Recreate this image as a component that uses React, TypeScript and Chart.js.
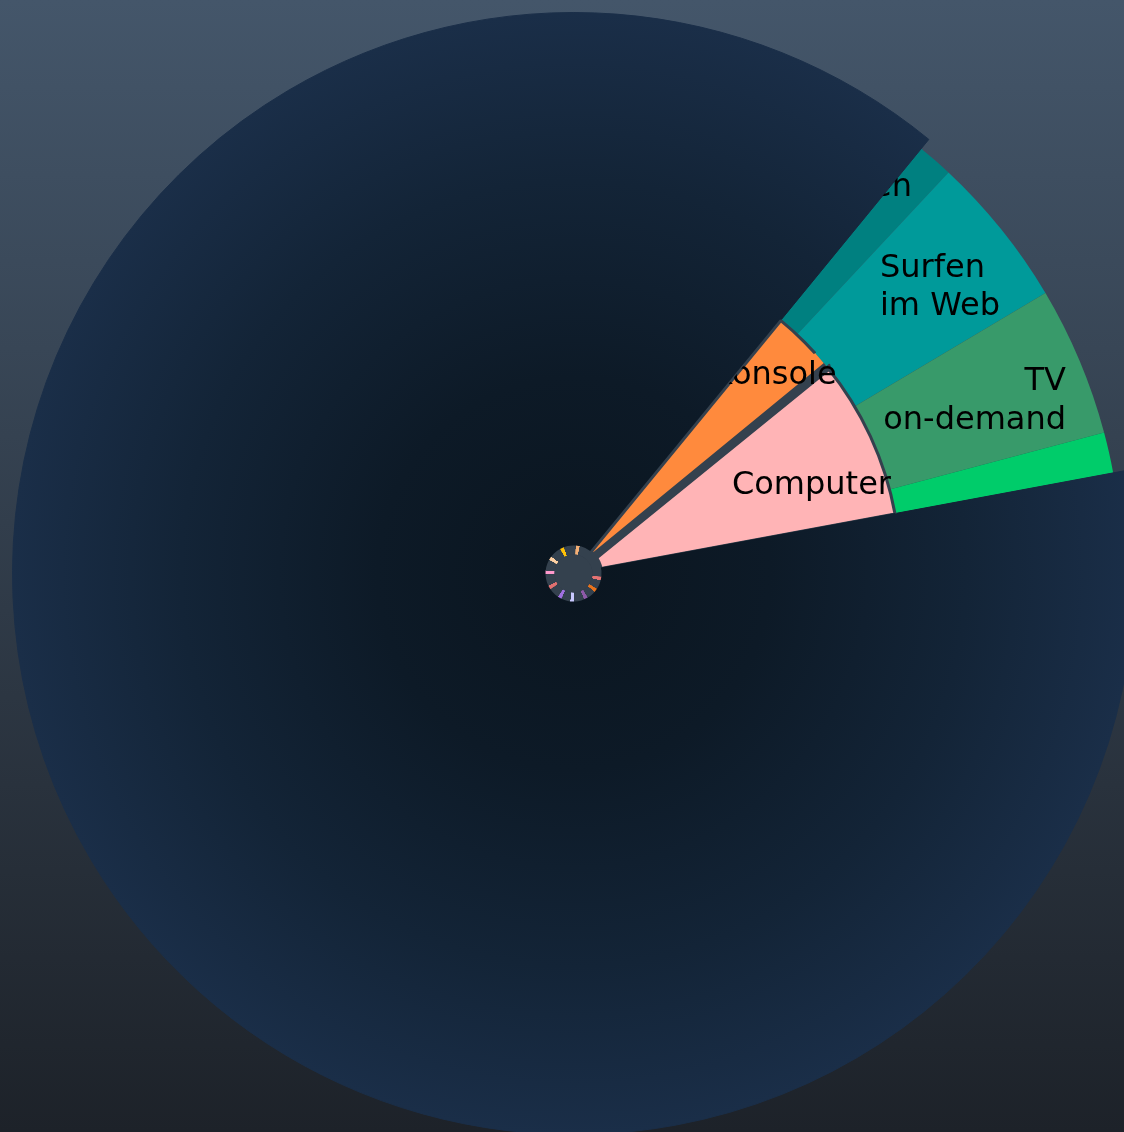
import React, { useEffect, useRef } from 'react';
import { Chart, registerables } from 'chart.js';

Chart.register(...registerables);

// ---------- data ----------
const outerCategories = ['Fernsehen', 'Surfen im Web', 'TV on-demand', 'Radio', 'Sonstiges'];
const outerValues = [1.05, 4.5, 4.4, 1.2, 88.85];
const outerLabelLines = [['Fernsehen'], ['Surfen', 'im Web'], ['TV', 'on-demand'], [], []];

const innerCategories = ['Computer', 'Sonstiges', 'Spielkonsole', 'Tablet'];
const innerValues = [7.93, 88.85, 3.14, 0.08];
const innerLabelLines = [['Computer'], [], ['Spielkonsole'], []];

const tickCategories = ['A', 'B', 'C', 'D', 'E', 'F', 'G', 'H', 'I', 'J'];
const tickValues = [27, 26.2, 29.1, 27.1, 30, 32.5, 31, 32.3, 33.4, 91.4];

// ---------- styles ----------
const GRAY = '#34414e';
const outerColors = ['#008080', '#009a9a', '#389a6a', '#00cc6a', null];
const innerColors = ['#ffb4b6', null, '#ff8a3d', GRAY];
const tickColors = ['#e57373', '#e8731c', '#8e5aa8', '#c9c9ff', '#a070e0', '#e07070', '#ff99cc', '#ffd1a3', '#ffc107', '#f5b076'];
const NAVY_INDEX = 4;
const INNER_NAVY_INDEX = 1;
const ORANGE_INDEX = 2;
const NAVY_EXTRA = 12;
const TICK_DEG = 8;
const FONT_SIZE = 32;
const LINE_H = 38.2;

const LABEL_LAYOUT = [
  { ds: 0, i: 0, k: 0.94, d: 0.19, align: 'right' },
  { ds: 0, i: 1, k: 0.7674, d: 4.51, align: 'left' },
  { ds: 0, i: 2, k: 0.9525, d: -3.16, align: 'right' },
  { ds: 1, i: 2, k: 1.013, d: -7.6, align: 'right' },
  { ds: 1, i: 0, k: 1.01, d: -8.78, align: 'right' },
];

function center(chart: any) {
  const a = chart.chartArea;
  return { cx: (a.left + a.right) / 2, cy: (a.top + a.bottom) / 2 };
}

function sliceStart(c: any, idx: number) {
  const vals = c.dataset.data as number[];
  const total = vals.reduce((s, v) => s + v, 0);
  let before = 0;
  for (let i = 0; i < idx; i++) before += vals[i];
  return ((c.dataset.rotation - 90) * Math.PI) / 180 + (before / total) * Math.PI * 2;
}

function sliceDeg(c: any, idx: number) {
  const vals = c.dataset.data as number[];
  const total = vals.reduce((s, v) => s + v, 0);
  return (vals[idx] / total) * 360;
}

function navyGradient(chart: any) {
  if (!chart.chartArea) return '#14243a';
  const { cx, cy } = center(chart);
  const g = chart.ctx.createRadialGradient(cx, cy, 0, cx, cy, 561);
  g.addColorStop(0, '#0a151f');
  g.addColorStop(0.35, '#0d1a27');
  g.addColorStop(0.7, '#132437');
  g.addColorStop(1, '#1a2e48');
  return g;
}

function tickFill(c: any) {
  const chart = c.chart;
  const idx = c.dataIndex;
  if (!chart.chartArea || idx === undefined) return GRAY;
  const { cx, cy } = center(chart);
  const g = chart.ctx.createConicGradient(sliceStart(c, idx), cx, cy);
  const w = TICK_DEG / 360;
  g.addColorStop(0, tickColors[idx]);
  g.addColorStop(w, tickColors[idx]);
  g.addColorStop(w + 0.001, GRAY);
  g.addColorStop(1, GRAY);
  return g;
}

function innerBorder(c: any) {
  const chart = c.chart;
  const idx = c.dataIndex;
  if (idx === INNER_NAVY_INDEX) return navyGradient(chart);
  if (idx === ORANGE_INDEX && chart.chartArea) {
    // no visible edge line where the slice meets the large dark slice
    const { cx, cy } = center(chart);
    const g = chart.ctx.createConicGradient(sliceStart(c, idx), cx, cy);
    const span = sliceDeg(c, idx);
    g.addColorStop(0, GRAY);
    g.addColorStop((span - 3.1) / 360, GRAY);
    g.addColorStop((span - 3) / 360, 'rgba(0,0,0,0)');
    g.addColorStop((span + 6) / 360, 'rgba(0,0,0,0)');
    g.addColorStop((span + 6.1) / 360, GRAY);
    g.addColorStop(1, GRAY);
    return g;
  }
  return GRAY;
}

const extendNavy = {
  id: 'extendNavy',
  afterDatasetUpdate(chart: any, args: any) {
    if (args.index !== 0) return;
    const meta = chart.getDatasetMeta(0);
    const el = meta.data[NAVY_INDEX];
    if (el) el.outerRadius = meta.controller.outerRadius + NAVY_EXTRA;
  },
};

const sliceLabels = {
  id: 'sliceLabels',
  afterDatasetsDraw(chart: any) {
    const ctx = chart.ctx;
    const navy = chart.getDatasetMeta(0).data[NAVY_INDEX];
    if (!navy) return;
    ctx.save();
    ctx.beginPath();
    ctx.moveTo(navy.x, navy.y);
    ctx.arc(navy.x, navy.y, 2000, navy.endAngle, navy.startAngle + Math.PI * 2);
    ctx.closePath();
    ctx.clip();
    ctx.fillStyle = '#000';
    ctx.font = `${FONT_SIZE}px "DejaVu Sans", Verdana, sans-serif`;
    ctx.textBaseline = 'alphabetic';
    const lineSets = [outerLabelLines, innerLabelLines];
    LABEL_LAYOUT.forEach((L) => {
      const el = chart.getDatasetMeta(L.ds).data[L.i];
      const lines = lineSets[L.ds][L.i];
      if (!el || !lines.length) return;
      const mid = (el.startAngle + el.endAngle) / 2 - (L.d * Math.PI) / 180;
      const r = el.outerRadius * L.k;
      const ax = el.x + Math.cos(mid) * r;
      const ay = el.y + Math.sin(mid) * r;
      ctx.textAlign = L.align;
      const n = lines.length;
      lines.forEach((t: string, j: number) => {
        const y = ay + (j - (n - 1) / 2) * LINE_H + (FONT_SIZE * 0.729) / 2;
        ctx.fillText(t, ax, y);
      });
    });
    ctx.restore();
  },
};

export default function App() {
  const ref = useRef<HTMLCanvasElement | null>(null);
  useEffect(() => {
    if (!ref.current) return;
    const chart = new Chart(ref.current, {
      type: 'doughnut',
      data: {
        labels: outerCategories,
        datasets: [
          {
            label: 'Außen',
            data: outerValues,
            weight: 222,
            rotation: 39.3,
            order: 3,
            backgroundColor: (c: any) => outerColors[c.dataIndex] || navyGradient(c.chart),
            borderColor: (c: any) => (c.dataIndex === NAVY_INDEX ? navyGradient(c.chart) : 'rgba(0,0,0,0)'),
            borderWidth: outerValues.map((_, i) => (i === NAVY_INDEX ? 1 : 0)),
            borderAlign: 'center',
          } as any,
          {
            label: 'Innen',
            data: innerValues,
            weight: 299,
            rotation: 50.95,
            order: 2,
            backgroundColor: (c: any) => innerColors[c.dataIndex] || navyGradient(c.chart),
            borderColor: innerBorder,
            borderWidth: [3, 2, 3, 8],
            borderAlign: 'center',
          } as any,
          {
            label: 'Ticks',
            data: tickValues,
            weight: 9,
            rotation: 96.1,
            order: 1,
            backgroundColor: tickFill,
            borderWidth: 0,
          } as any,
          {
            label: 'Mitte',
            data: [1],
            weight: 19,
            order: 0,
            backgroundColor: GRAY,
            borderWidth: 0,
          } as any,
        ],
      },
      options: {
        responsive: false,
        animation: false,
        events: [],
        radius: 549,
        cutout: 0,
        layout: { padding: { left: 23, top: 15, right: 0, bottom: 0 } },
        plugins: { legend: { display: false }, tooltip: { enabled: false } },
      } as any,
      plugins: [extendNavy, sliceLabels],
    });
    return () => chart.destroy();
  }, []);

  return (
    <div
      style={{
        position: 'absolute',
        left: 0,
        top: 0,
        width: 1124,
        height: 1132,
        background: 'linear-gradient(to bottom, #44566a 0%, #1d2229 100%)',
        overflow: 'hidden',
      }}
    >
      <canvas ref={ref} width={1124} height={1132} style={{ display: 'block' }} />
    </div>
  );
}
